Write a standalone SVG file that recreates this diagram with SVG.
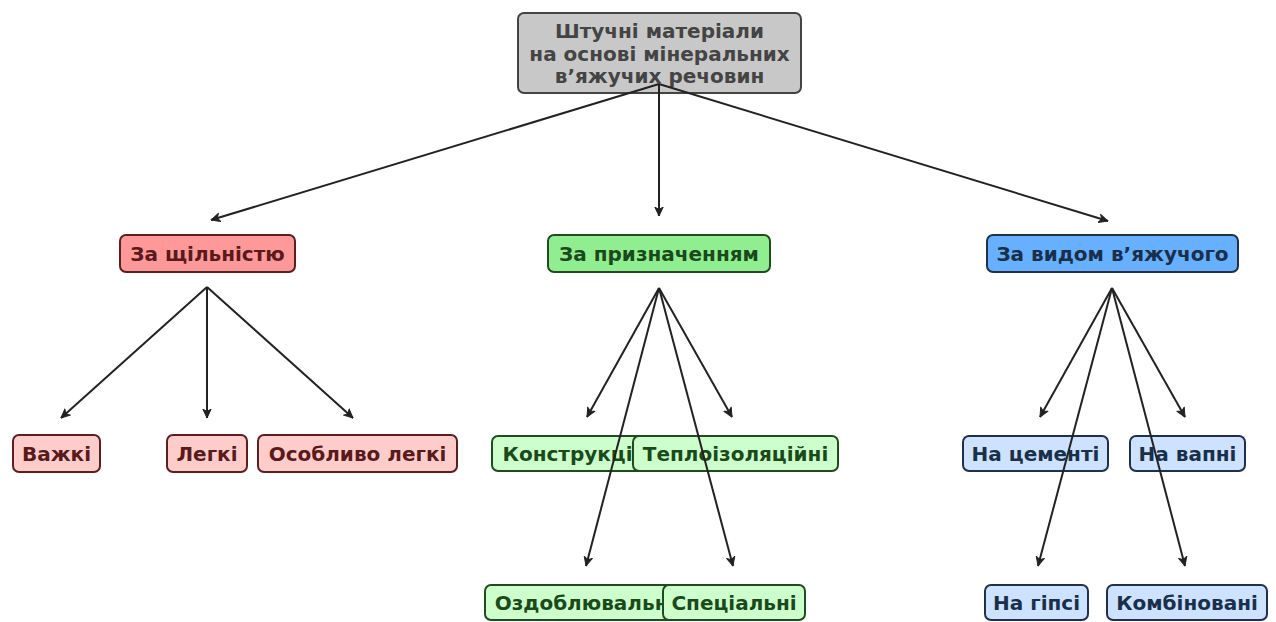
<svg xmlns="http://www.w3.org/2000/svg" width="1276" height="622" viewBox="0 0 1276 622">
<defs>
<marker id="ah" viewBox="0 0 10 10" refX="9.5" refY="5" markerWidth="10" markerHeight="10" markerUnits="userSpaceOnUse" orient="auto">
<path d="M0.5,0.8 L9.5,5 L0.5,9.2 L3,5 Z" fill="#222" stroke="#222" stroke-width="1" stroke-linejoin="round"/>
</marker>
<style>
text{font-family:"DejaVu Sans","Noto Sans",sans-serif;font-weight:bold;font-size:20px;text-anchor:middle;dominant-baseline:central}
rect{stroke-width:2}
.top rect{fill:#c8c8c8;stroke:#444}
.top text{fill:#444}
.r2 rect{fill:#ff9999;stroke:#5a2020}
.r3 rect{fill:#ffcccc;stroke:#5a2020}
.r2 text,.r3 text{fill:#5a1a1a}
.g2 rect{fill:#90ee90;stroke:#204a20}
.g3 rect{fill:#ccffcc;stroke:#204a20}
.g2 text,.g3 text{fill:#1a4a1a}
.b2 rect{fill:#66b0ff;stroke:#20304a}
.b3 rect{fill:#cce2ff;stroke:#20304a}
.b2 text,.b3 text{fill:#1a2f4a}
.c line{stroke:#222;stroke-width:2;marker-end:url(#ah)}
</style>
</defs>
<rect width="1276" height="622" fill="#fff"/>
<g id="root" class="top">
<rect x="518" y="13" width="283" height="80" rx="6"/>
<text x="659.5" y="31">Штучні матеріали</text>
<text x="659.5" y="53.5">на основі мінеральних</text>
<text x="659.5" y="76">в’яжучих речовин</text>
</g>
<g id="density" class="r2"><rect x="120" y="235" width="175" height="37" rx="6"/><text x="207.5" y="253.5">За щільністю</text></g>
<g id="purpose" class="g2"><rect x="548" y="235" width="222" height="37" rx="6"/><text x="659" y="253.5">За призначенням</text></g>
<g id="binder" class="b2"><rect x="987" y="235" width="251" height="37" rx="6"/><text x="1112.5" y="253.5">За видом в’яжучого</text></g>
<g id="heavy" class="r3"><rect x="13" y="435" width="87" height="37" rx="6"/><text x="56.5" y="453.5">Важкі</text></g>
<g id="light" class="r3"><rect x="167" y="435" width="80" height="37" rx="6"/><text x="207" y="453.5">Легкі</text></g>
<g id="extralight" class="r3"><rect x="258" y="435" width="199" height="37" rx="6"/><text x="357.5" y="453.5">Особливо легкі</text></g>
<g id="structural" class="g3"><rect x="492" y="436" width="158" height="35" rx="6"/><text x="571" y="453.5">Конструкції</text></g>
<g id="insulation" class="g3"><rect x="633" y="436" width="205" height="35" rx="6"/><text x="735.5" y="453.5">Теплоізоляційні</text></g>
<g id="finishing" class="g3"><rect x="485" y="585" width="200" height="35" rx="6"/><text x="585" y="602.5">Оздоблювальні</text></g>
<g id="special" class="g3"><rect x="663" y="585" width="142" height="35" rx="6"/><text x="734" y="602.5">Спеціальні</text></g>
<g id="cement" class="b3"><rect x="963" y="436" width="145" height="35" rx="6"/><text x="1035.5" y="453.5">На цементі</text></g>
<g id="lime" class="b3"><rect x="1130" y="436" width="115" height="35" rx="6"/><text x="1187.5" y="453.5">На вапні</text></g>
<g id="gypsum" class="b3"><rect x="985" y="585" width="103" height="35" rx="6"/><text x="1036.5" y="602.5">На гіпсі</text></g>
<g id="combined" class="b3"><rect x="1107" y="585" width="160" height="35" rx="6"/><text x="1187" y="602.5">Комбіновані</text></g>
<g id="connectors" class="c">
<line x1="659" y1="84" x2="211" y2="220"/>
<line x1="659" y1="84" x2="659" y2="216"/>
<line x1="659" y1="84" x2="1108" y2="221"/>
<line x1="207" y1="287" x2="61" y2="418"/>
<line x1="207" y1="287" x2="207" y2="418"/>
<line x1="207" y1="287" x2="353" y2="418"/>
<line x1="659" y1="288" x2="587" y2="417"/>
<line x1="659" y1="288" x2="732" y2="417"/>
<line x1="659" y1="288" x2="586" y2="566"/>
<line x1="659" y1="288" x2="733" y2="566"/>
<line x1="1112" y1="288" x2="1040" y2="417"/>
<line x1="1112" y1="288" x2="1185" y2="417"/>
<line x1="1112" y1="288" x2="1038" y2="566"/>
<line x1="1112" y1="288" x2="1185" y2="566"/>
</g>
</svg>
